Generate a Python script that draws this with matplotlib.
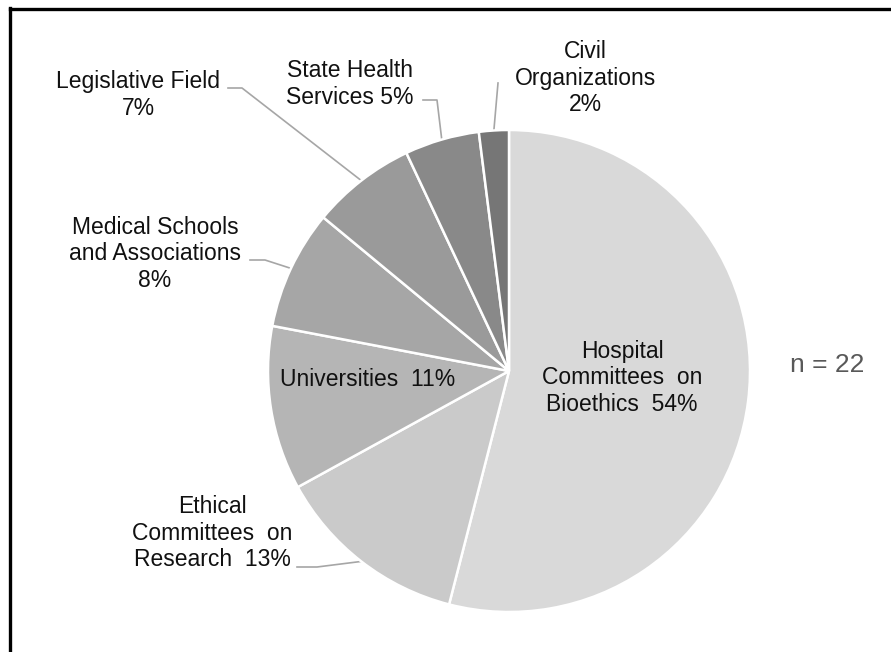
import matplotlib.pyplot as plt
from matplotlib.lines import Line2D
import numpy as np

plt.rcParams["font.family"] = ["Liberation Sans", "DejaVu Sans"]

categories = [
    "Hospital\nCommittees  on\nBioethics  54%",
    "Ethical\nCommittees  on\nResearch  13%",
    "Universities  11%",
    "Medical Schools\nand Associations\n8%",
    "Legislative Field\n7%",
    "State Health\nServices 5%",
    "Civil\nOrganizations\n2%",
]
shares = [54, 13, 11, 8, 7, 5, 2]
colors = ["#d9d9d9", "#cacaca", "#b5b5b5", "#a6a6a6", "#9a9a9a", "#898989", "#767676"]
n_label = "n = 22"

W, H = 891, 652
cx, cy, r = 509, 371, 241

fig = plt.figure(figsize=(W / 100, H / 100), dpi=100)
ax = fig.add_axes([(cx - r) / W, (H - cy - r) / H, 2 * r / W, 2 * r / H])
wedges, _ = ax.pie(shares, colors=colors, startangle=90, counterclock=False,
                   radius=1, wedgeprops=dict(edgecolor="white", linewidth=1.8))
ax.set_xlim(-1, 1)
ax.set_ylim(-1, 1)


def px(x, y):
    return (x - cx) / r, (cy - y) / r


# label centres (pixels); leader = (start_x, start_y, elbow_x) or None
label_pos = [(622, 378), (212, 533), (368, 380), (155, 254), (138, 95), (350, 84), (585, 78)]
leaders = [None, (297, 567, 317), None, (250, 260, 265), (228, 88, 242), (423, 100, 437), (498, 83, 498)]

for w, text, (lx, ly), lead in zip(wedges, categories, label_pos, leaders):
    tx, ty = px(lx, ly)
    ax.text(tx, ty, text, ha="center", va="center", fontsize=16.5,
            linespacing=1.22, color="#111111")
    if lead is not None:
        ang = np.deg2rad((w.theta1 + w.theta2) / 2)
        ex, ey = np.cos(ang), np.sin(ang)
        x0, y0 = px(lead[0], lead[1])
        x1, _ = px(lead[2], lead[1])
        ax.plot([x0, x1, ex], [y0, y0, ey], color="#a6a6a6", lw=1.2,
                clip_on=False, zorder=0)

fig.text(827 / W, 1 - 365 / H, n_label, ha="center", va="center",
         fontsize=19, color="#595959")

# outer frame (only top and left edges fall inside the image)
fig.add_artist(Line2D([10 / W, 1], [1 - 8.5 / H, 1 - 8.5 / H], color="black", lw=2.4,
                      transform=fig.transFigure))
fig.add_artist(Line2D([10 / W, 10 / W], [0, 1 - 7.5 / H], color="black", lw=2.4,
                      transform=fig.transFigure))

fig.savefig("out.png", dpi=100)
